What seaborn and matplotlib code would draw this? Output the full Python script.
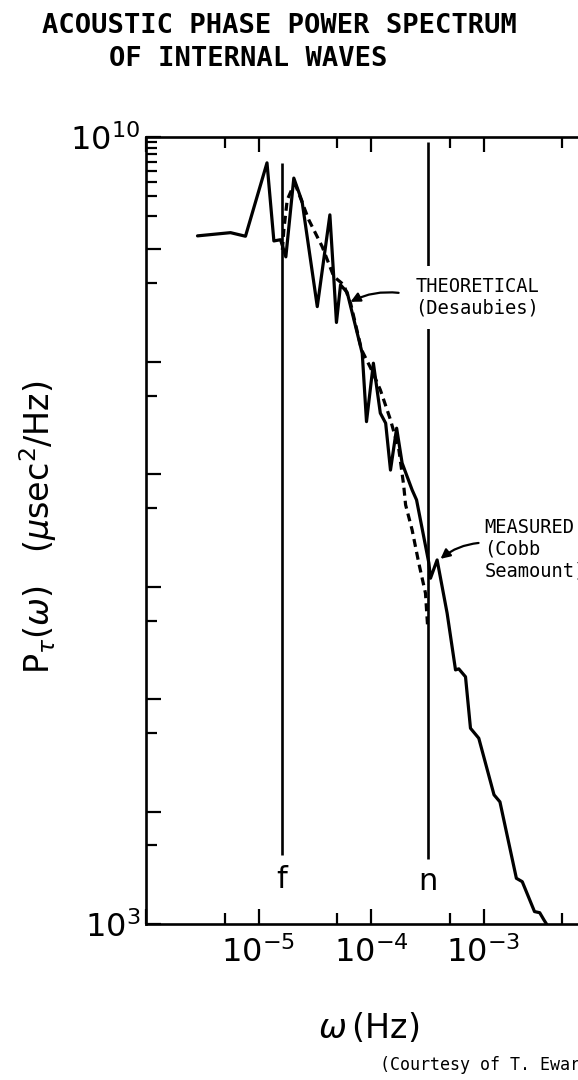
import matplotlib
matplotlib.use("Agg")
import matplotlib.pyplot as plt
import seaborn as sns
import pandas as pd

# measured spectrum (Cobb Seamount)
freq_measured = [2.87e-6, 5.64e-6, 7.66e-6, 1.19e-5, 1.37e-5, 1.57e-5, 1.75e-5, 2.06e-5,
                 2.44e-5, 3.33e-5, 4.31e-5, 4.67e-5, 4.93e-5, 5.36e-5, 6.14e-5, 8.36e-5,
                 9.12e-5, 1.05e-4, 1.21e-4, 1.35e-4, 1.49e-4, 1.69e-4, 1.89e-4, 2.32e-4,
                 2.54e-4, 3.27e-4, 3.38e-4, 3.87e-4, 4.75e-4, 5.64e-4, 6.03e-4, 6.92e-4,
                 7.66e-4, 9.08e-4, 1.24e-3, 1.40e-3, 1.96e-3, 2.21e-3, 2.84e-3, 3.16e-3,
                 3.44e-3, 3.63e-3]
power_measured = [1.32e9, 1.41e9, 1.31e9, 5.89e9, 1.19e9, 1.22e9, 8.59e8, 4.31e9,
                  2.67e9, 3.10e8, 2.03e9, 5.56e8, 2.24e8, 4.84e8, 4.15e8, 1.19e8,
                  2.94e7, 9.73e7, 3.50e7, 2.85e7, 1.09e7, 2.57e7, 1.26e7, 7.26e6,
                  5.92e6, 1.62e6, 1.19e6, 1.73e6, 5.81e5, 1.82e5, 1.86e5, 1.58e5,
                  5.51e4, 4.49e4, 1.41e4, 1.22e4, 2.55e3, 2.38e3, 1.29e3, 1.26e3,
                  1.09e3, 1.00e3]

# theoretical spectrum (Desaubies)
freq_theory = [1.63e-5, 1.68e-5, 1.80e-5, 2.00e-5, 2.13e-5, 2.80e-5, 3.68e-5, 4.67e-5,
               5.73e-5, 6.58e-5, 8.24e-5, 9.91e-5, 1.21e-4, 1.49e-4, 1.77e-4, 1.95e-4,
               2.03e-4, 2.32e-4, 2.66e-4, 3.05e-4, 3.18e-4]
power_theory = [9.91e8, 1.49e9, 2.76e9, 3.51e9, 3.76e9, 1.83e9, 1.06e9, 5.74e8,
                4.84e8, 3.33e8, 1.28e8, 8.85e7, 5.64e7, 3.05e7, 1.65e7, 8.05e6,
                5.35e6, 3.20e6, 1.62e6, 8.75e5, 4.57e5]

# inertial (f) and buoyancy (n) frequencies
f_freq = 1.62e-5
f_span = [4.1e3, 5.9e9]
n_freq = 3.21e-4
n_span = [3.8e3, 9.0e9]

x_major = [1e-6, 1e-5, 1e-4, 1e-3, 1e-2]
x_labels = ["", r"$10^{-5}$", r"$10^{-4}$", r"$10^{-3}$", ""]
x_minor = [5e-6, 5e-5, 5e-4, 5e-3]
y_major = [1e3, 1e4, 1e5, 1e6, 1e7, 1e8, 1e9, 1e10]
y_labels = [r"$10^{3}$", "", "", "", "", "", "", r"$10^{10}$"]
y_minor = [5e3, 5e4, 5e5, 5e6, 5e7, 5e8, 2e9, 3e9, 4e9, 5e9, 6e9, 7e9, 8e9, 9e9]

measured = pd.DataFrame({"freq": freq_measured, "power": power_measured})
theory = pd.DataFrame({"freq": freq_theory, "power": power_theory})

sns.set_theme(style="ticks")
plt.rcParams["font.family"] = ["DejaVu Sans"]
plt.rcParams.update({"text.color": "black", "axes.labelcolor": "black",
                     "xtick.color": "black", "ytick.color": "black"})

fig = plt.figure(figsize=(5.78, 10.8), dpi=100)
ax = fig.add_axes([146 / 578, 156 / 1080, 450 / 578, 787 / 1080])

sns.lineplot(data=measured, x="freq", y="power", ax=ax, color="black", lw=2.3,
             estimator=None, sort=False)
sns.lineplot(data=theory, x="freq", y="power", ax=ax, color="black", lw=2.3,
             linestyle=(0, (2.5, 1.6)), estimator=None, sort=False)

ax.vlines(f_freq, f_span[0], f_span[1], color="black", lw=1.9)
ax.vlines(n_freq, n_span[0], n_span[1], color="black", lw=1.9)

ax.set_xscale("log")
ax.set_yscale("log")
ax.set_xlim(1e-6, 1e-2)
ax.set_ylim(1e3, 1e10)

ax.set_xticks(x_major, labels=x_labels)
ax.set_xticks(x_minor, minor=True)
ax.set_yticks(y_major, labels=y_labels)
ax.set_yticks(y_minor, minor=True)
ax.set_xticklabels([], minor=True)
ax.set_yticklabels([], minor=True)
ax.tick_params(which="both", direction="in", top=True, right=True, width=1.6,
               colors="black")
ax.tick_params(which="major", length=11, labelsize=23)
ax.tick_params(which="minor", length=8)
ax.tick_params(axis="x", which="major", pad=9)
ax.tick_params(axis="y", which="major", pad=4)
for s in ax.spines.values():
    s.set_linewidth(1.9)
    s.set_color("black")
ax.set_xlabel("")
ax.set_ylabel("")

ax.text(f_freq, 2.5e3, "f", ha="center", va="center", fontsize=22)
ax.text(n_freq, 2.4e3, "n", ha="center", va="center", fontsize=22)

mono = "DejaVu Sans Mono"
ax.text(2.49e-4, 5.7e8, "THEORETICAL\n(Desaubies)", family=mono, fontsize=13.5,
        ha="left", va="top", linespacing=1.2,
        bbox=dict(boxstyle="square,pad=0.6", fc="white", ec="none"))
ax.annotate("", xy=(6.58e-5, 3.42e8), xytext=(1.76e-4, 4.11e8),
            arrowprops=dict(arrowstyle="-|>", color="black", lw=1.6,
                            connectionstyle="arc3,rad=0.15", shrinkA=0, shrinkB=0,
                            mutation_scale=14))
ax.text(1.02e-3, 4.09e6, "MEASURED\n(Cobb\nSeamount)", family=mono, fontsize=13.5,
        ha="left", va="top", linespacing=1.2)
ax.annotate("", xy=(4.15e-4, 1.77e6), xytext=(9.04e-4, 2.45e6),
            arrowprops=dict(arrowstyle="-|>", color="black", lw=1.6,
                            connectionstyle="arc3,rad=0.15", shrinkA=0, shrinkB=0,
                            mutation_scale=14))

fig.text(279 / 578, 1 - 26 / 1080, "ACOUSTIC PHASE POWER SPECTRUM", family=mono,
         fontweight="bold", fontsize=19.5, ha="center", va="center")
fig.text(248 / 578, 1 - 59 / 1080, "OF INTERNAL WAVES", family=mono,
         fontweight="bold", fontsize=19.5, ha="center", va="center")

fig.text(38 / 578, 1 - 527 / 1080,
         r"$\mathrm{P}_{\tau}(\omega)$   $(\mu$sec$^{2}$/Hz$)$",
         rotation=90, ha="center", va="center", fontsize=24)
fig.text(369 / 578, 1 - 1028 / 1080, r"$\omega\,$(Hz)", ha="center", va="center",
         fontsize=24)

fig.text(380 / 578, 1 - 1065 / 1080, "(Courtesy of T. Ewart)", family=mono,
         fontsize=12, ha="left", va="center")

fig.savefig("out.png", dpi=100)
